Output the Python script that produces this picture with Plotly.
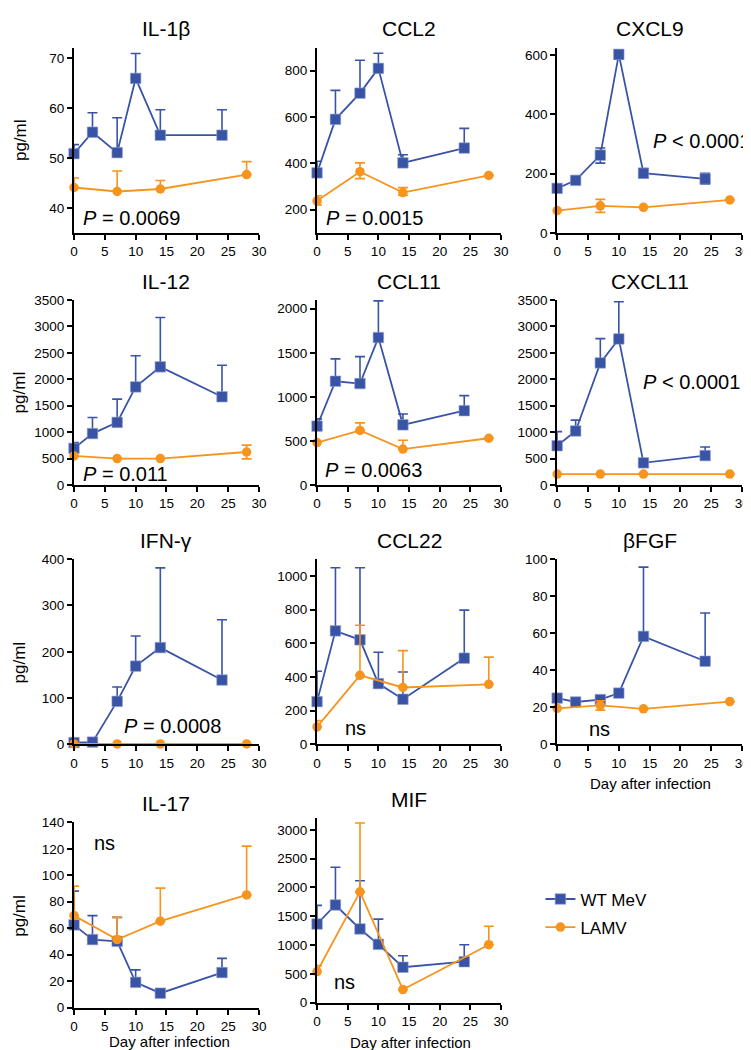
import plotly.graph_objects as go

# ---------------- data ----------------
days_wt = [0, 3, 7, 10, 14, 24]
days_lamv = [0, 7, 14, 28]

il1b_wt = [50.9, 55.2, 51.1, 66.0, 54.6, 54.6]
il1b_wt_up = [1.8, 3.9, 7.0, 5.0, 5.1, 5.1]
il1b_wt_dn = [0, 0, 0, 0, 0, 0]
il1b_lamv = [44.1, 43.3, 43.8, 46.7]
il1b_lamv_up = [1.9, 4.1, 1.7, 2.6]
il1b_lamv_dn = [0, 0, 0, 0]

ccl2_wt = [359, 590, 703, 810, 402, 466]
ccl2_wt_up = [50, 125, 142, 65, 35, 85]
ccl2_wt_dn = [0, 0, 0, 0, 0, 0]
ccl2_lamv = [238, 364, 274, 348]
ccl2_lamv_up = [22, 38, 21, 0]
ccl2_lamv_dn = [18, 30, 12, 0]

cxcl9_wt = [150, 177, 262, 602, 201, 182]
cxcl9_wt_up = [0, 0, 24, 13, 16, 19]
cxcl9_wt_dn = [0, 0, 27, 16, 15, 17]
cxcl9_lamv = [75, 91, 86, 111]
cxcl9_lamv_up = [0, 22, 0, 0]
cxcl9_lamv_dn = [0, 22, 0, 0]

il12_wt = [695, 975, 1186, 1856, 2235, 1670]
il12_wt_up = [112, 304, 440, 590, 931, 596]
il12_wt_dn = [0, 0, 0, 0, 0, 0]
il12_lamv = [552, 503, 503, 627]
il12_lamv_up = [0, 0, 0, 130]
il12_lamv_dn = [0, 0, 0, 130]

ccl11_wt = [669, 1178, 1152, 1673, 684, 844]
ccl11_wt_up = [82, 253, 305, 416, 123, 171]
ccl11_wt_dn = [0, 0, 0, 0, 0, 0]
ccl11_lamv = [483, 621, 409, 532]
ccl11_lamv_up = [0, 85, 100, 0]
ccl11_lamv_dn = [0, 0, 0, 0]

cxcl11_wt = [745, 1024, 2309, 2762, 422, 559]
cxcl11_wt_up = [267, 205, 459, 702, 0, 161]
cxcl11_wt_dn = [0, 0, 0, 0, 0, 0]
cxcl11_lamv = [210, 210, 210, 210]
cxcl11_lamv_up = [0, 0, 0, 0]
cxcl11_lamv_dn = [0, 0, 0, 0]

ifng_wt = [4, 5, 93, 169, 209, 139]
ifng_wt_up = [0, 0, 31, 65, 172, 130]
ifng_wt_dn = [0, 0, 0, 0, 0, 0]
ifng_lamv = [1, 1, 1, 1]
ifng_lamv_up = [0, 0, 0, 0]
ifng_lamv_dn = [0, 0, 0, 0]

ccl22_wt = [254, 674, 621, 361, 268, 512]
ccl22_wt_up = [180, 375, 428, 186, 162, 285]
ccl22_wt_dn = [0, 0, 0, 0, 0, 0]
ccl22_lamv = [104, 410, 338, 357]
ccl22_lamv_up = [37, 297, 219, 161]
ccl22_lamv_dn = [0, 0, 0, 0]

bfgf_wt = [25.0, 22.9, 24.2, 27.7, 58.3, 44.9]
bfgf_wt_up = [0, 0, 0, 0, 37.4, 26.0]
bfgf_wt_dn = [0, 0, 0, 0, 0, 0]
bfgf_lamv = [19.4, 21.1, 19.2, 23.1]
bfgf_lamv_up = [0, 2.5, 0, 0]
bfgf_lamv_dn = [0, 2.6, 0, 0]

il17_wt = [62.5, 51.4, 50.1, 19.1, 10.9, 26.5]
il17_wt_up = [25.5, 18.1, 18.1, 9.4, 0, 10.7]
il17_wt_dn = [0, 0, 0, 0, 0, 0]
il17_lamv = [69.5, 51.4, 65.3, 85.1]
il17_lamv_up = [22.3, 16.8, 25.0, 36.9]
il17_lamv_dn = [0, 0, 0, 0]

mif_wt = [1366, 1696, 1280, 1013, 615, 711]
mif_wt_up = [324, 654, 837, 438, 199, 296]
mif_wt_dn = [0, 0, 0, 0, 0, 0]
mif_lamv = [541, 1924, 228, 1007]
mif_lamv_up = [102, 1195, 0, 319]
mif_lamv_dn = [0, 0, 0, 0]

panel_titles = ["IL-1β", "CCL2", "CXCL9", "IL-12", "CCL11", "CXCL11",
                "IFN-γ", "CCL22", "βFGF", "IL-17", "MIF"]
stat_labels = ["<i>P</i> = 0.0069", "<i>P</i> = 0.0015", "<i>P</i> < 0.0001",
               "<i>P</i> = 0.011", "<i>P</i> = 0.0063", "<i>P</i> < 0.0001",
               "<i>P</i> = 0.0008", "ns", "ns", "ns", "ns"]
series_names = ["WT MeV", "LAMV"]
x_title = "Day after infection"
y_title = "pg/ml"

wt_sets = [
    (il1b_wt, il1b_wt_up, il1b_wt_dn), (ccl2_wt, ccl2_wt_up, ccl2_wt_dn),
    (cxcl9_wt, cxcl9_wt_up, cxcl9_wt_dn), (il12_wt, il12_wt_up, il12_wt_dn),
    (ccl11_wt, ccl11_wt_up, ccl11_wt_dn), (cxcl11_wt, cxcl11_wt_up, cxcl11_wt_dn),
    (ifng_wt, ifng_wt_up, ifng_wt_dn), (ccl22_wt, ccl22_wt_up, ccl22_wt_dn),
    (bfgf_wt, bfgf_wt_up, bfgf_wt_dn), (il17_wt, il17_wt_up, il17_wt_dn),
    (mif_wt, mif_wt_up, mif_wt_dn)]
lamv_sets = [
    (il1b_lamv, il1b_lamv_up, il1b_lamv_dn), (ccl2_lamv, ccl2_lamv_up, ccl2_lamv_dn),
    (cxcl9_lamv, cxcl9_lamv_up, cxcl9_lamv_dn), (il12_lamv, il12_lamv_up, il12_lamv_dn),
    (ccl11_lamv, ccl11_lamv_up, ccl11_lamv_dn), (cxcl11_lamv, cxcl11_lamv_up, cxcl11_lamv_dn),
    (ifng_lamv, ifng_lamv_up, ifng_lamv_dn), (ccl22_lamv, ccl22_lamv_up, ccl22_lamv_dn),
    (bfgf_lamv, bfgf_lamv_up, bfgf_lamv_dn), (il17_lamv, il17_lamv_up, il17_lamv_dn),
    (mif_lamv, mif_lamv_up, mif_lamv_dn)]

# ---------------- style / layout ----------------
W, H = 751, 1050
BLUE = "#3A54A5"
ORANGE = "#F7941D"
FONT = "Arial, 'Liberation Sans', Helvetica, sans-serif"

y_ranges = [(35, 72.2), (100, 900), (0, 625), (0, 3500), (0, 2100), (0, 3500),
            (0, 400), (0, 1100), (0, 100), (0, 140), (0, 3200)]
y_dticks = [10, 200, 200, 500, 500, 500, 100, 200, 20, 20, 500]
y_tick0 = [40, 200, 0, 0, 0, 0, 0, 0, 0, 0, 0]

col_px = [(63, 251), (310, 497), (554, 742)]
row_px = [(33, 221), (289, 477), (552, 740), (817, 1005)]
panel_box = []
for i in range(11):
    r, c = divmod(i, 3)
    l, rr = col_px[c]
    t, b = row_px[r]
    if i == 9:
        t, b = 819, 1007
    if i == 10:
        t, b = 815, 1002
    panel_box.append((l, rr, t, b))

stat_pos = [(1.1, 37.9), (1.1, 164), (15.3, 311), (1.1, 217), (1.0, 167),
            (13.6, 1943), (7.8, 39), (4.2, 98), (4.8, 8.2), (3.0, 124), (2.4, 358)]

fig = go.Figure()
layout = dict(width=W, height=H, margin=dict(l=0, r=0, t=0, b=0),
              paper_bgcolor="white", plot_bgcolor="white",
              font=dict(family=FONT, color="black"), showlegend=True)
annotations = []

for i in range(11):
    ax = "" if i == 0 else str(i + 1)
    xa, ya = "x" + ax, "y" + ax
    l, rr, t, b = panel_box[i]
    wt, wt_up, wt_dn = wt_sets[i]
    lv, lv_up, lv_dn = lamv_sets[i]

    fig.add_trace(go.Scatter(
        x=days_wt, y=wt, mode="lines+markers", name=series_names[0],
        legendgroup="wt", showlegend=(i == 0), xaxis=xa, yaxis=ya,
        line=dict(color=BLUE, width=1.8),
        marker=dict(symbol="square", size=10.5, color=BLUE,
                    line=dict(color="#8FA0D0", width=0.6)),
        error_y=dict(type="data", symmetric=False, array=wt_up, arrayminus=wt_dn,
                     color=BLUE, thickness=1.6, width=5),
        cliponaxis=False))
    fig.add_trace(go.Scatter(
        x=days_lamv, y=lv, mode="lines+markers", name=series_names[1],
        legendgroup="lamv", showlegend=(i == 0), xaxis=xa, yaxis=ya,
        line=dict(color=ORANGE, width=1.8),
        marker=dict(symbol="circle", size=9.5, color=ORANGE),
        error_y=dict(type="data", symmetric=False, array=lv_up, arrayminus=lv_dn,
                     color=ORANGE, thickness=1.6, width=5),
        cliponaxis=False))

    xdom = [l / W, rr / W]
    ydom = [1 - b / H, 1 - t / H]
    axis_common = dict(showline=True, linecolor="black", linewidth=2,
                       ticks="outside", ticklen=5, tickwidth=2, tickcolor="black",
                       showgrid=False, zeroline=False,
                       tickfont=dict(size=13.5, family=FONT, color="black"))
    layout["xaxis" + ax] = dict(domain=xdom, range=[0, 30], dtick=5, tick0=0,
                                anchor=ya, **axis_common)
    layout["yaxis" + ax] = dict(domain=ydom, range=list(y_ranges[i]), dtick=y_dticks[i],
                                tick0=y_tick0[i], anchor=xa, **axis_common)

    annotations.append(dict(text=panel_titles[i], xref="paper", yref="paper",
                            x=(l + rr) / 2 / W, y=1 - (t - 19) / H,
                            xanchor="center", yanchor="middle", showarrow=False,
                            font=dict(size=21, family=FONT, color="black")))
    sx, sy = stat_pos[i]
    annotations.append(dict(text=stat_labels[i], xref=xa, yref=ya, x=sx, y=sy,
                            xanchor="left", yanchor="middle", showarrow=False,
                            font=dict(size=20, family=FONT, color="black")))

for yc in [127, 383, 657, 914]:
    annotations.append(dict(text=y_title, xref="paper", yref="paper",
                            x=8 / W, y=1 - yc / H, textangle=-90,
                            xanchor="center", yanchor="middle", showarrow=False,
                            font=dict(size=17, family=FONT, color="black")))
for xc, yc in [(649, 780), (160, 1041), (405, 1042)]:
    annotations.append(dict(text=x_title, xref="paper", yref="paper",
                            x=xc / W, y=1 - yc / H,
                            xanchor="center", yanchor="middle", showarrow=False,
                            font=dict(size=15, family=FONT, color="black")))

layout["annotations"] = annotations
layout["legend"] = dict(x=537 / W, y=1 - 879 / H, xanchor="left", yanchor="top",
                        font=dict(size=17, family=FONT, color="black"),
                        bgcolor="rgba(0,0,0,0)", tracegroupgap=3,
                        itemwidth=30)
fig.update_layout(**layout)
fig.write_html("out.html")
